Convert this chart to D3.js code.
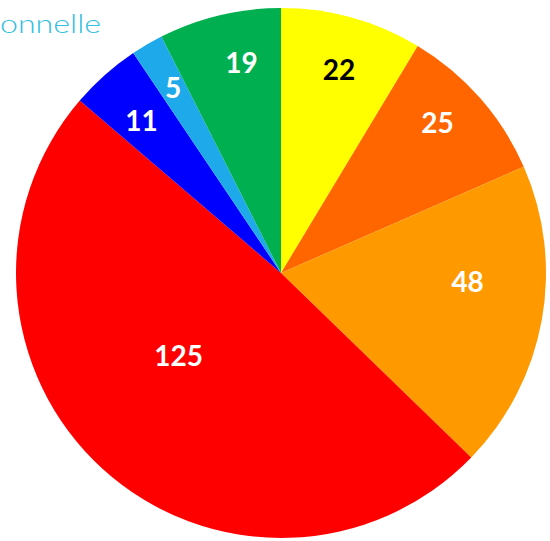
<!DOCTYPE html>
<html>
<head>
<meta charset="utf-8">
<script src="https://cdn.jsdelivr.net/npm/d3@7"></script>
<style>
  html, body { margin: 0; padding: 0; background: #fff; }
  svg { display: block; }
</style>
</head>
<body>
<div id="chart"></div>
<script>
// slices, clockwise from 12 o'clock
const categories = ["A", "B", "C", "D", "E", "F", "G"];
const values = [22, 25, 48, 125, 11, 5, 19];
const colors = ["#ffff00", "#ff6600", "#ff9900", "#ff0000", "#0000ff", "#1eaaea", "#00b050"];
const labelColors = ["#000", "#fff", "#fff", "#fff", "#fff", "#fff", "#fff"];
const titleText = "onnelle";

const width = 550, height = 541;
const cx = 281, cy = 273, radius = 265;

// label placement: [fraction of radius, angle shift from slice middle in degrees]
const labelPlace = [[0.796, 0.4], [0.818, -2.5], [0.705, -7.6], [0.498, 8.6], [0.778, -0.9], [0.808, 0.1], [0.808, 2.8]];

const svg = d3.select("#chart").append("svg")
  .attr("width", width)
  .attr("height", height);

svg.append("text")
  .attr("x", 0)
  .attr("y", 33)
  .attr("font-family", "Lato, 'Open Sans', sans-serif")
  .attr("font-weight", 300)
  .attr("font-size", "26px")
  .attr("fill", "#33c0df")
  .attr("textLength", 101)
  .attr("lengthAdjust", "spacingAndGlyphs")
  .text(titleText);

const data = categories.map((c, i) => ({ name: c, value: values[i], i }));

const pie = d3.pie()
  .value(d => d.value)
  .sort(null);

const arc = d3.arc()
  .innerRadius(0)
  .outerRadius(radius);

const g = svg.append("g").attr("transform", `translate(${cx},${cy})`);

const arcs = pie(data);

g.selectAll("path")
  .data(arcs)
  .enter()
  .append("path")
  .attr("d", arc)
  .attr("fill", d => colors[d.data.i]);

function labelPos(d) {
  const [f, shift] = labelPlace[d.data.i];
  const a = (d.startAngle + d.endAngle) / 2 + shift * Math.PI / 180;
  return [Math.sin(a) * radius * f, -Math.cos(a) * radius * f];
}

g.selectAll("text.label")
  .data(arcs)
  .enter()
  .append("text")
  .attr("class", "label")
  .attr("x", d => labelPos(d)[0])
  .attr("y", d => labelPos(d)[1])
  .attr("dy", "0.36em")
  .attr("text-anchor", "middle")
  .attr("font-family", "Lato, 'DejaVu Sans', sans-serif")
  .attr("font-weight", "bold")
  .attr("font-size", "28px")
  .attr("fill", d => labelColors[d.data.i])
  .text(d => d.data.value);
</script>
</body>
</html>
